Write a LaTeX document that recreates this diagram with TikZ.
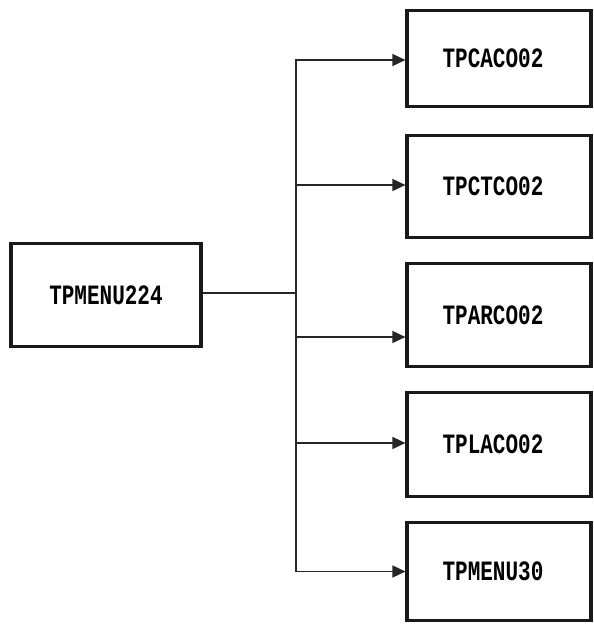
\documentclass[tikz,border=0pt]{standalone}
\usepackage{fontspec}
\newfontfamily\boxfont{Liberation Mono}
\usetikzlibrary{arrows.meta}
\begin{document}
\begin{tikzpicture}[x=1pt,y=-1pt,
  box/.style={draw=black!90,line width=3.2pt,rectangle,inner sep=0pt,
    font=\boxfont\bfseries\fontsize{20}{20}\selectfont},
  conn/.style={draw=black!85,line width=1.6pt},
  arr/.style={conn,-{Triangle[length=13pt,width=12pt]}}]
\useasboundingbox (0,0) rectangle (594,624);
\node[box,minimum width=190pt,minimum height=103pt] (M) at (106,295) {\scalebox{1.05}[1.4]{TPMENU224}};
\node[box,minimum width=184pt,minimum height=96pt] (B1) at (499,58.5) {\hspace*{-12pt}\scalebox{1.05}[1.4]{TPCACO02}};
\node[box,minimum width=184pt,minimum height=102pt] (B2) at (499,186.5) {\hspace*{-12pt}\scalebox{1.05}[1.4]{TPCTCO02}};
\node[box,minimum width=184pt,minimum height=103pt] (B3) at (499,315) {\hspace*{-12pt}\scalebox{1.05}[1.4]{TPARCO02}};
\node[box,minimum width=184pt,minimum height=104pt] (B4) at (499,444.5) {\hspace*{-12pt}\scalebox{1.05}[1.4]{TPLACO02}};
\node[box,minimum width=184pt,minimum height=98pt] (B5) at (499,571.5) {\hspace*{-12pt}\scalebox{1.05}[1.4]{TPMENU30}};
\coordinate (J) at (296,293);
\draw[conn] (M.east |- J) -- (J);
\draw[arr] (J) |- ([yshift=-1.5pt]B1.west);
\draw[arr] (J) |- ([yshift=1.5pt]B2.west);
\draw[arr] (J) |- ([yshift=-22pt]B3.west);
\draw[arr] (J) |- ([yshift=1.5pt]B4.west);
\draw[arr] (J) |- (B5.west);
\end{tikzpicture}
\end{document}
